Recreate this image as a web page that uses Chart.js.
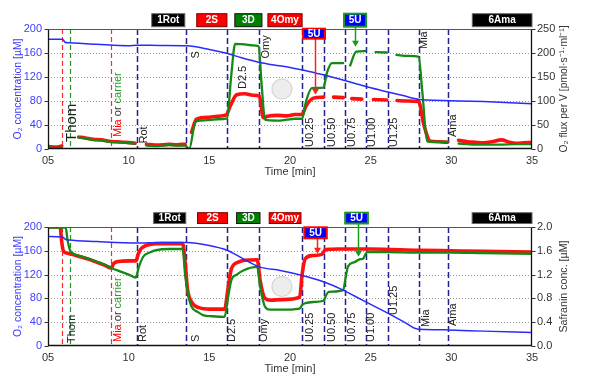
<!DOCTYPE html>
<html><head><meta charset="utf-8">
<script src="https://cdn.jsdelivr.net/npm/chart.js@4/dist/chart.umd.min.js"></script>
<style>
html,body{margin:0;padding:0;background:#fff;}
#wrap{position:relative;width:595px;height:381px;overflow:hidden;}
canvas{position:absolute;left:0;}
</style></head><body>
<div id="wrap">
<canvas id="c1" width="595" height="190" style="top:0px"></canvas>
<canvas id="c2" width="595" height="191" style="top:190px"></canvas>
</div>
<script>
// ---------------- DATA ----------------
const timeTicks = [5, 10, 15, 20, 25, 30, 35];
const timeTickLabels = ['05', '10', '15', '20', '25', '30', '35'];
const o2Ticks = [0, 40, 80, 120, 160, 200];
const fluxTicks = [0, 50, 100, 150, 200, 250];
const safTicks = [0, 0.4, 0.8, 1.2, 1.6, 2.0];

const eventTimes = [5.88, 6.36, 8.93, 10.54, 13.58, 16.08, 18.1, 20.74, 22.1, 23.42, 24.68, 26.05, 27.97, 29.77];

// top chart: O2 concentration [uM] (blue), O2 flux per V (red, green)
const topO2 = [[5,183],[5.9,183],[6.05,178],[6.3,177],[8,174.5],[10,172],[10.5,173],[12,172.5],[13.6,172],[15,166],[16,160],[17,152],[18,145],[19,140],[20,136],[21,130.5],[22,124],[23,117],[24,109.5],[25,102],[26,95.5],[27,89],[28,82.5],[28.5,81.5],[30,80.5],[32,79],[35,75.5]];
const topFluxRed = [[5,5],[5.5,4],[5.85,6],[6.4,null],[6.9,25],[7.3,23],[7.8,20],[8.3,19],[8.8,16],[9.3,15],[9.8,14],[10.4,12],[10.75,null],[11.1,10],[11.8,8],[12.5,10],[13.0,9],[13.5,10],[13.7,null],[13.9,35],[14.2,62],[15,66],[15.5,68],[16.05,71],[16.3,90],[16.7,113],[17.2,115],[17.7,112],[18.1,110],[18.35,65],[18.6,68],[19.2,70],[19.8,69],[20.3,72],[20.75,72],[21.0,90],[21.45,106],[22.07,108],[22.4,null],[22.7,108],[23.3,107],[23.55,null],[23.83,105],[24.45,104],[24.8,null],[25.17,103],[26.0,102],[26.3,null],[26.63,101],[27.3,100],[27.97,99],[28.3,50],[28.7,16],[29.2,15],[29.77,14],[30.1,null],[30.45,18],[31,15],[31.5,14],[32,13],[32.5,15],[33.1,19],[33.6,14],[34,12],[34.5,13],[35,14]];
const topFluxGreen = [[5,3],[5.5,2],[5.85,3],[6.4,null],[6.9,24],[7.3,22],[7.8,19],[8.3,18],[8.8,15],[9.3,14],[9.8,13],[10.4,11],[10.75,null],[11.1,7],[11.8,6],[12.5,8],[13.0,7],[13.5,7],[13.75,0],[14.15,57],[15,60],[15.5,62],[16.1,64],[16.35,150],[16.6,219],[17.2,218],[17.7,216],[18.05,214],[18.25,130],[18.45,61],[19.2,59],[19.8,61],[20.3,63],[20.75,63],[21.0,100],[21.35,127],[22.07,128],[22.3,160],[22.6,179],[23.3,179],[23.5,null],[23.73,174],[24.1,203],[24.66,204],[24.95,null],[25.3,202],[26.0,201],[26.3,null],[26.6,196],[27.3,194],[27.97,192],[28.2,120],[28.5,16],[29.0,15],[29.77,15],[30.1,null],[30.45,11],[31,10],[32,9],[33,9],[34,10],[35,10]];

// bottom chart: O2 concentration [uM] (blue), Safranin conc. [uM] (red, green)
const botO2 = [[5,184],[5.9,183],[6.1,179],[6.3,178],[8,175.5],[10.5,173],[12,174],[13.6,174],[15,169],[16.1,161],[17,148],[18.1,133],[19.4,127],[20.7,119],[22.07,108],[23.3,94],[24,84],[25,70],[26,56],[27,41.5],[27.95,28],[29,27.5],[29.8,27],[32,25],[35,22.5]];
const botSafRed = [[5,2.0],[5.75,2.0],[5.85,1.75],[5.95,1.6],[6.2,1.56],[6.5,1.54],[7,1.50],[7.5,1.46],[8,1.41],[8.5,1.36],[8.93,1.31],[9.05,1.38],[9.35,1.42],[10,1.43],[10.45,1.43],[10.6,1.55],[10.75,1.63],[11.1,1.69],[11.7,1.72],[13.35,1.72],[13.5,1.4],[13.65,0.95],[13.9,0.74],[14.4,0.64],[15,0.62],[15.95,0.62],[16.15,0.95],[16.37,1.30],[16.8,1.41],[17.2,1.44],[17.97,1.45],[18.15,1.1],[18.45,0.80],[18.8,0.77],[19.5,0.78],[20.6,0.82],[20.75,1.2],[20.95,1.47],[21.4,1.52],[21.97,1.54],[22.2,1.62],[23,1.63],[25,1.63],[28,1.61],[30,1.60],[32,1.59],[35,1.58]];
const botSafGreen = [[5,1.99],[6.1,1.99],[6.2,1.80],[6.35,1.62],[6.6,1.55],[7,1.51],[7.5,1.47],[8,1.42],[8.5,1.37],[8.93,1.31],[9.5,1.25],[10,1.20],[10.45,1.15],[10.6,1.30],[10.9,1.50],[11.3,1.57],[11.7,1.61],[12.5,1.63],[13.35,1.63],[13.5,1.20],[13.7,0.85],[13.9,0.66],[14.3,0.57],[14.6,0.52],[15.2,0.50],[15.95,0.49],[16.15,0.80],[16.37,1.11],[16.7,1.20],[17.1,1.27],[17.97,1.33],[18.15,1.0],[18.45,0.66],[18.76,0.61],[19.3,0.61],[20.6,0.63],[20.75,0.69],[20.95,0.72],[21.5,0.74],[22.07,0.76],[22.25,0.86],[22.4,0.91],[23.3,0.94],[23.45,1.15],[23.6,1.34],[24.0,1.41],[24.35,1.46],[24.55,1.47],[24.65,1.53],[24.8,1.58],[26,1.58],[28,1.57],[30,1.57],[32,1.56],[35,1.55]];

// ---------------- STYLE / LAYOUT ----------------
const FONT = '"Liberation Sans", Arial, sans-serif';
const eventStyle = i => i === 0 || i === 2 ? {c:'#ff2a2a', w:1.2, d:[5,3]} : i === 1 ? {c:'#1f9a1f', w:1.2, d:[5,3]} : {c:'#22228a', w:1.5, d:[6,3]};
const DARK = '#222';
const MIA = [['Mia ', '#ff0000'], ['or ', '#333'], ['carrier', '#2a9a2a']];

const topCfg = {
  id: 'top', padTop: 29, xH: 41, right: fluxTicks,
  rightFmt: v => String(v), timeY: 171.5,
  leftTitle: 'O\u2082 concentration [\u00b5M]', leftLen: 101,
  rightTitle: 'O\u2082 flux per V [pmol\u00b7s\u207b\u00b9\u00b7ml\u207b\u00b9]', rightLen: 127,
  labels: [
    {p:[['Thom']], ev:1, dx:6.3, y:142, s:15},
    {p:MIA, ev:2, dx:10, y:137},
    {p:[['Rot']], ev:3, dx:9.3, y:143.5},
    {p:[['S']], ev:4, dx:12.9, y:58.5},
    {p:[['D2.5']], ev:5, dx:19.4, y:89},
    {p:[['Omy']], ev:6, dx:10, y:58.5},
    {p:[['U0.25']], ev:7, dx:11.4, y:147},
    {p:[['U0.50']], ev:8, dx:10.7, y:147},
    {p:[['U0.75']], ev:9, dx:9.5, y:147},
    {p:[['U1.00']], ev:10, dx:9.5, y:147},
    {p:[['U1.25']], ev:11, dx:9.4, y:147},
    {p:[['Mia']], ev:12, dx:8.7, y:49},
    {p:[['Ama']], ev:13, dx:8.7, y:137}
  ],
  rows: {above:[-15.3, 13], inside:[-0.3, 10]},
  boxes: [
    {t:'1Rot', a:11.43, b:13.48, r:'above', f:'#000', s:'#666'},
    {t:'2S', a:14.22, b:16.09, r:'above', f:'#ff0000', s:'#700'},
    {t:'3D', a:16.58, b:18.26, r:'above', f:'#008000', s:'#111'},
    {t:'4Omy', a:18.63, b:20.75, r:'above', f:'#ff0000', s:'#700'},
    {t:'5U', a:20.81, b:22.17, r:'inside', f:'#0000ff', s:'#ff0000', lw:2},
    {t:'5U', a:23.35, b:24.72, r:'above', f:'#0000ff', s:'#1a9a1a', lw:2},
    {t:'6Ama', a:31.3, b:35.0, r:'above', f:'#000', s:'#666'}
  ],
  arrows: [
    {t:21.55, r:'inside', tip:113, c:'#ff2020'},
    {t:24.05, r:'above', tip:213, c:'#1a9a1a'}
  ]
};
const botCfg = {
  id: 'bot', padTop: 37, xH: 35, right: safTicks,
  rightFmt: v => v.toFixed(1), timeY: 179,
  leftTitle: 'O\u2082 concentration [\u00b5M]', leftLen: 101,
  rightTitle: 'Safranin conc. [\u00b5M]', rightLen: 92,
  labels: [
    {p:[['Thom']], ev:1, dx:4.6, y:153},
    {p:MIA, ev:2, dx:10, y:152},
    {p:[['Rot']], ev:3, dx:9, y:152},
    {p:[['S']], ev:4, dx:12.9, y:152},
    {p:[['D2.5']], ev:5, dx:8.4, y:152},
    {p:[['Omy']], ev:6, dx:8, y:152},
    {p:[['U0.25']], ev:7, dx:11.4, y:152},
    {p:[['U0.50']], ev:8, dx:10.7, y:152},
    {p:[['U0.75']], ev:9, dx:9.5, y:152},
    {p:[['U1.00']], ev:10, dx:8, y:152},
    {p:[['U1.25']], ev:11, dx:9, y:125},
    {p:[['Mia']], ev:12, dx:10, y:137},
    {p:[['Ama']], ev:13, dx:8.4, y:136}
  ],
  rows: {above:[-14.3, 10.8], inside:[0.3, 11]},
  boxes: [
    {t:'1Rot', a:11.55, b:13.54, r:'above', f:'#000', s:'#666'},
    {t:'2S', a:14.27, b:16.13, r:'above', f:'#ff0000', s:'#700'},
    {t:'3D', a:16.69, b:18.14, r:'above', f:'#008000', s:'#111'},
    {t:'4Omy', a:18.71, b:20.68, r:'above', f:'#ff0000', s:'#700'},
    {t:'5U', a:20.89, b:22.28, r:'inside', f:'#0000ff', s:'#ff0000', lw:2},
    {t:'5U', a:23.42, b:24.83, r:'above', f:'#0000ff', s:'#1a9a1a', lw:2},
    {t:'6Ama', a:31.29, b:35.0, r:'above', f:'#000', s:'#666'}
  ],
  arrows: [
    {t:21.66, r:'inside', tip:1.55, c:'#ff2020'},
    {t:24.24, r:'above', tip:1.50, c:'#1a9a1a'}
  ]
};

const pts = arr => arr.map(([x, y]) => ({x, y}));

function vText(ctx, parts, bx, yb, size, align, defColor, weight, len) {
  ctx.save();
  ctx.translate(bx, yb);
  ctx.rotate(-Math.PI / 2);
  ctx.font = (weight || 'normal') + ' ' + size + 'px ' + FONT;
  ctx.textBaseline = 'alphabetic';
  ctx.textAlign = 'left';
  let total = 0;
  for (const pr of parts) total += ctx.measureText(pr[0]).width;
  if (len) { ctx.scale(len / total, 1); }
  let off = align === 'center' ? -total / 2 : 0;
  for (const pr of parts) {
    ctx.fillStyle = pr[1] || defColor || DARK;
    ctx.fillText(pr[0], off, 0);
    off += ctx.measureText(pr[0]).width;
  }
  ctx.restore();
}

function makePlugin(cfg) {
  return {
    id: 'annot_' + cfg.id,
    beforeDatasetsDraw(chart) {
      const ctx = chart.ctx, a = chart.chartArea, xs = chart.scales.x, yl = chart.scales.y;
      ctx.save();
      // faint watermark
      const wx = xs.getPixelForValue(19.5), wy = (a.top + a.bottom) / 2;
      ctx.beginPath(); ctx.arc(wx, wy, 10, 0, Math.PI * 2);
      ctx.fillStyle = 'rgba(215,215,215,0.45)'; ctx.fill();
      ctx.strokeStyle = 'rgba(190,190,190,0.6)'; ctx.lineWidth = 1.2; ctx.stroke();
      // dotted grid
      ctx.strokeStyle = '#9a9a9a'; ctx.lineWidth = 1; ctx.setLineDash([1, 2]);
      o2Ticks.slice(1, -1).forEach(v => {
        const py = Math.round(yl.getPixelForValue(v)) + 0.5;
        ctx.beginPath(); ctx.moveTo(a.left, py); ctx.lineTo(a.right, py); ctx.stroke();
      });
      // event dashed lines
      eventTimes.forEach((t, i) => {
        const st = eventStyle(i);
        const px = Math.round(xs.getPixelForValue(t)) + 0.5;
        ctx.strokeStyle = st.c; ctx.lineWidth = st.w; ctx.setLineDash(st.d);
        ctx.beginPath(); ctx.moveTo(px, a.top); ctx.lineTo(px, a.bottom); ctx.stroke();
      });
      ctx.setLineDash([]);
      // event labels
      cfg.labels.forEach(l => {
        const px = xs.getPixelForValue(eventTimes[l.ev]) + l.dx;
        vText(ctx, l.p, px, l.y, l.s || 11, 'left', DARK);
      });
      ctx.restore();
    },
    afterDatasetsDraw(chart) {
      const ctx = chart.ctx, a = chart.chartArea, xs = chart.scales.x, yl = chart.scales.y, yr = chart.scales.y1;
      ctx.save();
      // frame
      const L = Math.round(a.left) + 0.5, R = Math.round(a.right) - 0.5, T = Math.round(a.top) + 0.5, B = Math.round(a.bottom) - 0.5;
      ctx.lineWidth = 1;
      ctx.beginPath(); ctx.moveTo(L, T); ctx.lineTo(R, T); ctx.strokeStyle = '#555'; ctx.stroke();
      ctx.strokeStyle = '#111'; ctx.lineWidth = 1.3;
      ctx.beginPath(); ctx.moveTo(L, T); ctx.lineTo(L, B); ctx.lineTo(R, B); ctx.lineTo(R, T); ctx.stroke();
      // tick marks
      ctx.lineWidth = 1; ctx.strokeStyle = '#333';
      o2Ticks.forEach(v => {
        const py = Math.round(yl.getPixelForValue(v)) + 0.5;
        ctx.beginPath(); ctx.moveTo(L - 4, py); ctx.lineTo(L, py); ctx.stroke();
      });
      cfg.right.forEach(v => {
        const py = Math.round(yr.getPixelForValue(v)) + 0.5;
        ctx.beginPath(); ctx.moveTo(R, py); ctx.lineTo(R + 4, py); ctx.stroke();
      });
      // arrows
      cfg.arrows.forEach(ar => {
        const row = cfg.rows[ar.r];
        const px = Math.round(xs.getPixelForValue(ar.t)) + 0.5;
        const y0 = a.top + row[0] + row[1];
        const y1 = yr.getPixelForValue(ar.tip);
        ctx.strokeStyle = ar.c; ctx.fillStyle = ar.c; ctx.lineWidth = 1.5;
        ctx.beginPath(); ctx.moveTo(px, y0); ctx.lineTo(px, y1 - 5); ctx.stroke();
        ctx.beginPath(); ctx.moveTo(px - 3.5, y1 - 6); ctx.lineTo(px + 3.5, y1 - 6); ctx.lineTo(px, y1); ctx.closePath(); ctx.fill();
      });
      // boxes
      cfg.boxes.forEach(bx => {
        const row = cfg.rows[bx.r];
        const x0 = xs.getPixelForValue(bx.a), x1 = xs.getPixelForValue(bx.b);
        const y0 = a.top + row[0], h = row[1];
        ctx.fillStyle = bx.f; ctx.fillRect(x0, y0, x1 - x0, h);
        ctx.strokeStyle = bx.s; ctx.lineWidth = bx.lw || 1;
        ctx.strokeRect(x0, y0, x1 - x0, h);
        ctx.fillStyle = '#fff'; ctx.font = 'bold 10px ' + FONT;
        ctx.textAlign = 'center'; ctx.textBaseline = 'middle';
        ctx.fillText(bx.t, (x0 + x1) / 2, y0 + h / 2 + 0.5);
      });
      // axis titles
      const cy = (a.top + a.bottom) / 2;
      vText(ctx, [[cfg.leftTitle, '#3a3aff']], 20.5, cy, 10.5, 'center', '#3a3aff', 'normal', cfg.leftLen);
      vText(ctx, [[cfg.rightTitle, '#333']], 566.5, cy, 10.5, 'center', '#333', 'normal', cfg.rightLen);
      ctx.fillStyle = '#333'; ctx.font = '11px ' + FONT; ctx.textAlign = 'center'; ctx.textBaseline = 'middle';
      ctx.fillText('Time [min]', (a.left + a.right) / 2, cfg.timeY);
      ctx.restore();
    }
  };
}

function makeChart(canvasId, cfg, blue, red, green) {
  const rt = cfg.right;
  return new Chart(document.getElementById(canvasId), {
    type: 'line',
    data: {
      datasets: [
        {data: pts(blue), yAxisID: 'y', borderColor: '#2a2aff', borderWidth: 1.5, order: 0},
        {data: pts(green), yAxisID: 'y1', borderColor: '#138a13', borderWidth: 2.3, order: 1},
        {data: pts(red), yAxisID: 'y1', borderColor: '#ff1010', borderWidth: 3.6, order: 2}
      ]
    },
    options: {
      responsive: false, animation: false, devicePixelRatio: 1,
      layout: {padding: {top: cfg.padTop, left: 0, right: 0, bottom: 0}},
      spanGaps: false,
      elements: {point: {radius: 0}, line: {cubicInterpolationMode: 'monotone', borderCapStyle: 'round', borderJoinStyle: 'round'}},
      plugins: {legend: {display: false}, tooltip: {enabled: false}},
      scales: {
        x: {
          type: 'linear', min: timeTicks[0], max: timeTicks[timeTicks.length - 1],
          afterFit: s => { s.height = cfg.xH; },
          afterBuildTicks: s => { s.ticks = timeTicks.map(v => ({value: v})); },
          ticks: {callback: v => timeTickLabels[timeTicks.indexOf(v)], color: '#333', font: {family: FONT, size: 11}, padding: 5, maxRotation: 0, autoSkip: false},
          grid: {display: false, drawTicks: false}, border: {display: false}
        },
        y: {
          position: 'left', min: o2Ticks[0], max: o2Ticks[o2Ticks.length - 1],
          afterFit: s => { s.width = 48; },
          afterBuildTicks: s => { s.ticks = o2Ticks.map(v => ({value: v})); },
          ticks: {color: '#4040ff', font: {family: FONT, size: 11}, padding: 6},
          grid: {display: false, drawTicks: false}, border: {display: false}
        },
        y1: {
          position: 'right', min: rt[0], max: rt[rt.length - 1],
          afterFit: s => { s.width = 63; },
          afterBuildTicks: s => { s.ticks = rt.map(v => ({value: v})); },
          ticks: {callback: v => cfg.rightFmt(v), color: '#333', font: {family: FONT, size: 11}, padding: 5},
          grid: {display: false, drawTicks: false}, border: {display: false}
        }
      }
    },
    plugins: [makePlugin(cfg)]
  });
}

makeChart('c1', topCfg, topO2, topFluxRed, topFluxGreen);
makeChart('c2', botCfg, botO2, botSafRed, botSafGreen);
</script>
</body></html>
